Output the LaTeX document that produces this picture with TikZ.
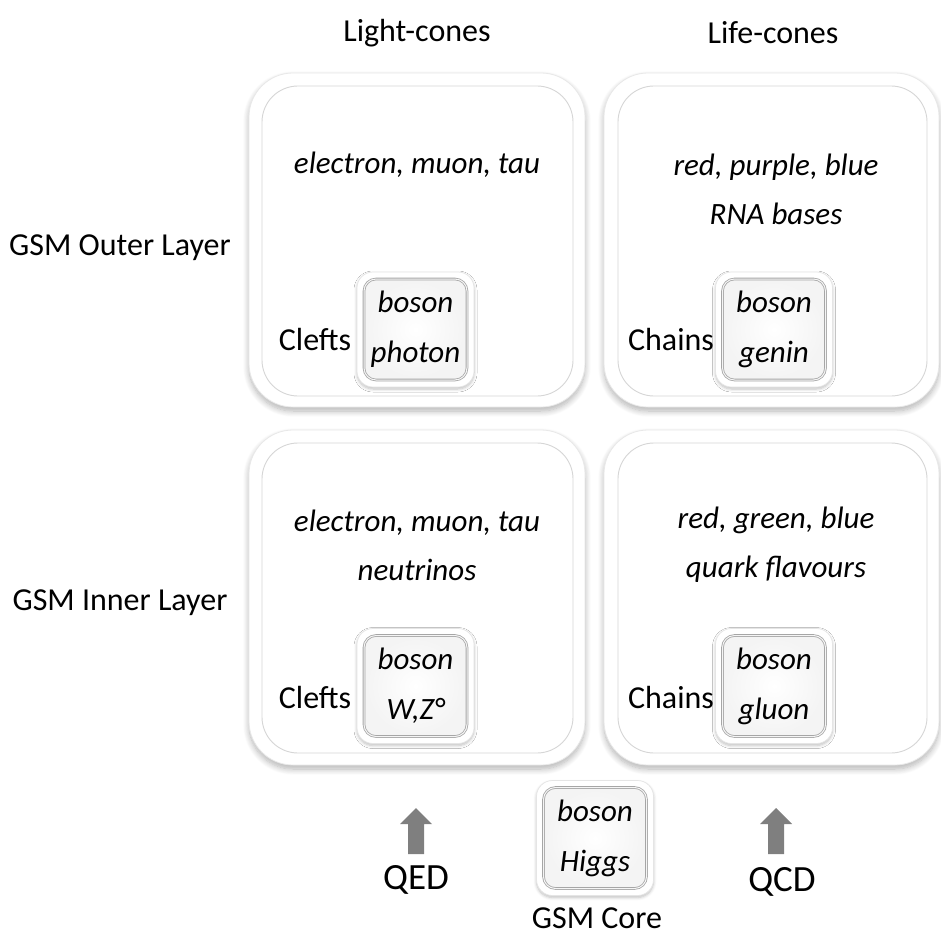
\documentclass[tikz,border=0pt]{standalone}
\usepackage{fontspec}
\setmainfont{Carlito}
\usetikzlibrary{shadows.blur}
\definecolor{arrowgray}{RGB}{127,127,127}
\begin{document}
\begin{tikzpicture}[x=1pt,y=-1pt,
  every node/.style={inner sep=0pt,outer sep=0pt},
  lbl/.style={font=\fontsize{32}{38}\selectfont, align=center},
  itl/.style={font=\fontsize{31}{49}\selectfont\itshape, align=center},
  big/.style={font=\fontsize{37}{42}\selectfont},
  frame/.style={rectangle, draw=gray!18, fill=white, line width=0.8pt,
    rounded corners=44pt,
    blur shadow={shadow xshift=0pt, shadow yshift=-4pt, shadow blur steps=10,
      shadow blur radius=6pt, shadow opacity=30}},
  panel/.style={rectangle, draw=gray!32, fill=white, line width=0.9pt,
    rounded corners=36pt},
  sframe/.style={rectangle, draw=gray!20, fill=white, line width=0.7pt,
    rounded corners=16pt, minimum width=117pt, minimum height=115pt,
    blur shadow={shadow xshift=0pt, shadow yshift=-2pt, shadow blur steps=6,
      shadow blur radius=3pt, shadow opacity=25}},
  sbox/.style={rectangle, draw=gray!70, double=gray!8, double distance=1pt,
    line width=0.8pt, rounded corners=12pt,
    inner color=white, outer color=gray!9,
    minimum width=103pt, minimum height=101pt,
    font=\fontsize{31}{50}\selectfont\itshape, align=center},
  arrowfill/.style={fill=arrowgray, draw=none}
]
\useasboundingbox (0,0) rectangle (941,941);

% column and row headings
\node[lbl] (hlight) at (417,33) {Light-cones};
\node[lbl] (hlife)  at (773,33) {Life-cones};
\node[lbl] (houter) at (120,248) {GSM Outer Layer};
\node[lbl] (hinner) at (120,603) {GSM Inner Layer};

% outer layer, light-cones
\node[frame, minimum width=336pt, minimum height=334pt] (tlf) at (417,240) {};
\node[panel, minimum width=311pt, minimum height=310pt] (tlp) at (417.5,241) {};
\node[itl] (tltxt) at (417,165) {electron, muon, tau};
\node[lbl] (tlcl) at (315,340) {Clefts};
\node[sframe] (tlsf) at (415.5,329.5) {};
\node[sbox] (tlsb) at (415.5,329.5) {boson\\photon};

% outer layer, life-cones
\node[frame, minimum width=335pt, minimum height=334pt] (trf) at (771.5,240) {};
\node[panel, minimum width=309pt, minimum height=310pt] (trp) at (772.5,241) {};
\node[itl] (trtxt) at (776,189) {red, purple, blue\\RNA bases};
\node[lbl] (trch) at (671,340) {Chains};
\node[sframe] (trsf) at (774,329.5) {};
\node[sbox] (trsb) at (774,329.5) {boson\\genin};

% inner layer, light-cones
\node[frame, minimum width=336pt, minimum height=335pt] (blf) at (417,597.5) {};
\node[panel, minimum width=311pt, minimum height=310pt] (blp) at (417.5,598) {};
\node[itl] (bltxt) at (417,545) {electron, muon, tau\\neutrinos};
\node[lbl] (blcl) at (315,697) {Clefts};
\node[sframe] (blsf) at (415.5,686) {};
\node[sbox] (blsb) at (415.5,686) {boson\\W,Z°};

% inner layer, life-cones
\node[frame, minimum width=335pt, minimum height=335pt] (brf) at (771.5,597.5) {};
\node[panel, minimum width=309pt, minimum height=310pt] (brp) at (772.5,598) {};
\node[itl] (brtxt) at (776,545) {red, green, blue\\quark flavours};
\node[lbl] (brch) at (671,697) {Chains};
\node[sframe] (brsf) at (774,686) {};
\node[sbox] (brsb) at (774,686) {boson\\gluon};

% core
\node[sframe] (csf) at (595,838) {};
\node[sbox] (csb) at (595,838) {boson\\Higgs};
\node[lbl] (core) at (597,918) {GSM Core};

% forces
\coordinate (qeda) at (416,831);
\fill[arrowfill, shift={(qeda)}] (-8,23) -- (-8,-7) -- (-16,-7) -- (0,-23)
  -- (16,-7) -- (8,-7) -- (8,23) -- cycle;
\node[big] (qed) at (416,880) {QED};
\coordinate (qcda) at (776,831);
\fill[arrowfill, shift={(qcda)}] (-8,23) -- (-8,-7) -- (-16,-7) -- (0,-23)
  -- (16,-7) -- (8,-7) -- (8,23) -- cycle;
\node[big] (qcd) at (782,882) {QCD};
\end{tikzpicture}
\end{document}
